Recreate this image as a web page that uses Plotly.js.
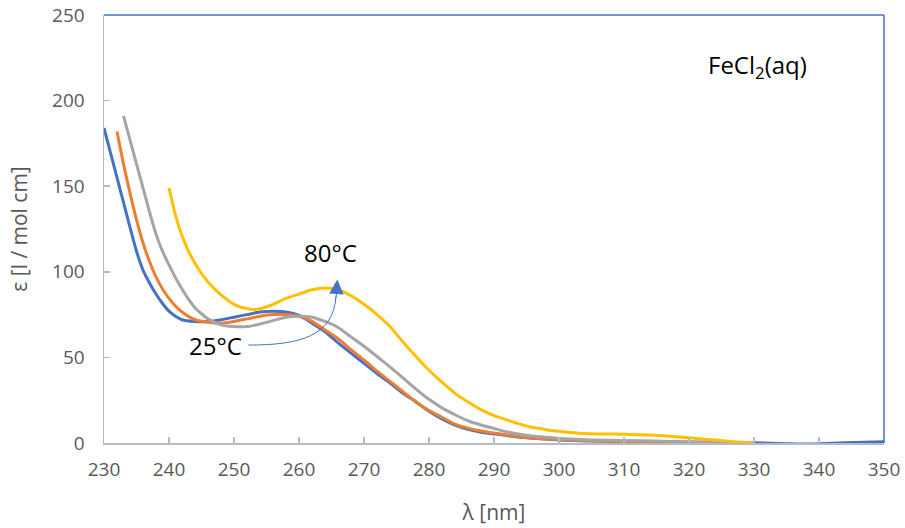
<!DOCTYPE html>
<html>
<head>
<meta charset="utf-8">
<script src="https://cdn.plot.ly/plotly-3.0.1.min.js"></script>
<style>html,body{margin:0;padding:0;background:#fff;}#chart{width:905px;height:528px;}</style>
</head>
<body>
<div id="chart"></div>
<script>
// 25 °C (blue)
const x25 = [230,231,232,233,234,235,236,237,238,239,240,241,242,244,246,248,250,252,254,256,258,260,262,264,266,268,270,272,274,276,278,280,282,284,286,288,290,295,300,305,310,315,320,325,330,335,337,340,344,347,350];
const y25 = [184,169.5,155,140.5,126,112,101,93.5,87,81.5,77,74,72,71,71,72,73.5,75,76.5,77,76.5,74.5,70,65,58.5,52.5,46.5,40.5,35,29,24,18.5,14,10.5,8,6.3,5.3,3,1.8,1.2,0.8,0.5,0.3,0.2,0.1,-0.4,-0.6,-0.4,0.1,0.5,0.8];
// intermediate (orange)
const xB = [232,233,234,235,236,237,238,239,240,241,242,244,246,248,250,252,254,256,258,260,262,264,266,268,270,272,274,276,278,280,282,284,286,288,290,295,300,305,310,315,320,325,330];
const yB = [182,163,146,130.5,117,106,97,90,84.5,80,76.5,72,70.5,70,71,72.5,74,75,75,74,71,66,61,54.5,48.5,42,36,30,24,19,15,11,8.7,7,5.8,3.2,2,1.3,0.9,0.6,0.4,0.2,0.1];
// intermediate (gray)
const xC = [233,234,235,236,237,238,239,240,241,242,243,244,245,246,248,250,252,254,256,258,260,262,264,266,268,270,272,274,276,278,280,282,284,286,288,290,292,295,298,300,305,310,315,320,325,330];
const yC = [191,177,163,149,135,122,112,104,96.5,90,84,79,75.5,72.5,69,68,68,69.5,71.5,73.5,74,73.5,71,67.5,62,56.5,50.5,44.5,38,31.5,25.5,20.5,16.5,13,10.5,8.5,6.5,4.5,3.3,2.7,1.8,1.4,1.1,0.8,0.5,0];
// 80 °C (yellow)
const x80 = [240,241,242,243,244,245,246,247,248,250,252,253,254,256,258,260,262,264,266,268,270,272,274,276,278,280,282,284,286,288,290,292,294,296,298,300,303,306,310,314,318,322,326,330];
const y80 = [149,133,121,112,105,99,94,90,86.5,81,78.5,78,78.5,81,84.5,87,89.5,90.5,89.5,86,81,75,68,59,50.5,42.5,35.5,29,24,19.5,16,13.5,11,9,7.8,6.8,5.7,5.3,5.1,4.6,3.7,2.4,1.0,0];

const colors = ['#4472C4','#ED7D31','#A5A5A5','#FFC000'];
const xs = [x25, xB, xC, x80];
const ys = [y25, yB, yC, y80];
const traces = xs.map((x, i) => ({
  x: x, y: ys[i], type: 'scatter', mode: 'lines',
  line: {color: colors[i], width: 3, shape: 'spline', smoothing: 0.6},
  hoverinfo: 'skip', showlegend: false
}));

const fontFam = '"Open Sans", sans-serif';
const axisGray = '#B4BAC6';
const layout = {
  width: 905, height: 528,
  margin: {l: 104, r: 21, t: 15, b: 85},
  paper_bgcolor: '#ffffff', plot_bgcolor: '#ffffff',
  font: {family: fontFam, color: '#595959', size: 17},
  showlegend: false,
  xaxis: {
    range: [230, 350], dtick: 10, tick0: 230,
    showgrid: false, zeroline: false,
    showline: true, linecolor: axisGray, linewidth: 1.5,
    ticks: 'inside', ticklen: 6, tickcolor: axisGray, tickwidth: 1.5,
    ticklabelstandoff: 9,
    tickfont: {size: 19, color: '#595959', family: fontFam},
    title: {text: 'λ [nm]', font: {size: 21, color: '#595959', family: fontFam}, standoff: 24},
    fixedrange: true
  },
  yaxis: {
    range: [0, 250], dtick: 50,
    showgrid: false, zeroline: false,
    showline: true, linecolor: axisGray, linewidth: 1.5,
    ticks: 'inside', ticklen: 6, tickcolor: axisGray, tickwidth: 1.5,
    ticklabelstandoff: 14,
    tickfont: {size: 19, color: '#595959', family: fontFam},
    title: {text: 'ε [l / mol cm]', font: {size: 21, color: '#595959', family: fontFam}, standoff: 19},
    fixedrange: true
  },
  shapes: [
    {type: 'line', xref: 'paper', yref: 'paper', x0: 0, x1: 1, y0: 1, y1: 1, line: {color: '#4472C4', width: 1.5}},
    {type: 'line', xref: 'paper', yref: 'paper', x0: 1, x1: 1, y0: 0, y1: 1, line: {color: '#4472C4', width: 1.5}},
    {type: 'path', xref: 'x', yref: 'y', layer: 'above',
     path: 'M252.2,57.2 C260,57.2 265.3,62 265.7,86',
     line: {color: '#4472C4', width: 1}}
  ],
  annotations: [
    {x: 265.9, y: 95.5, xref: 'x', yref: 'y', ax: 265.7, ay: 84, axref: 'x', ayref: 'y',
     showarrow: true, arrowhead: 2, arrowsize: 2.9, arrowwidth: 1, arrowcolor: '#4472C4', text: ''},
    {x: 247.1, y: 57.2, xref: 'x', yref: 'y', text: '25°C', showarrow: false,
     xanchor: 'center', yanchor: 'middle', font: {size: 24, color: '#000000', family: fontFam}},
    {x: 264.8, y: 111, xref: 'x', yref: 'y', text: '80°C', showarrow: false,
     xanchor: 'center', yanchor: 'middle', font: {size: 24, color: '#000000', family: fontFam}},
    {x: 330.5, y: 220, xref: 'x', yref: 'y', text: 'FeCl<sub>2</sub>(aq)', showarrow: false,
     xanchor: 'center', yanchor: 'middle', font: {size: 24, color: '#000000', family: fontFam}}
  ]
};

Plotly.newPlot('chart', traces, layout, {displayModeBar: false, staticPlot: true});
</script>
</body>
</html>
